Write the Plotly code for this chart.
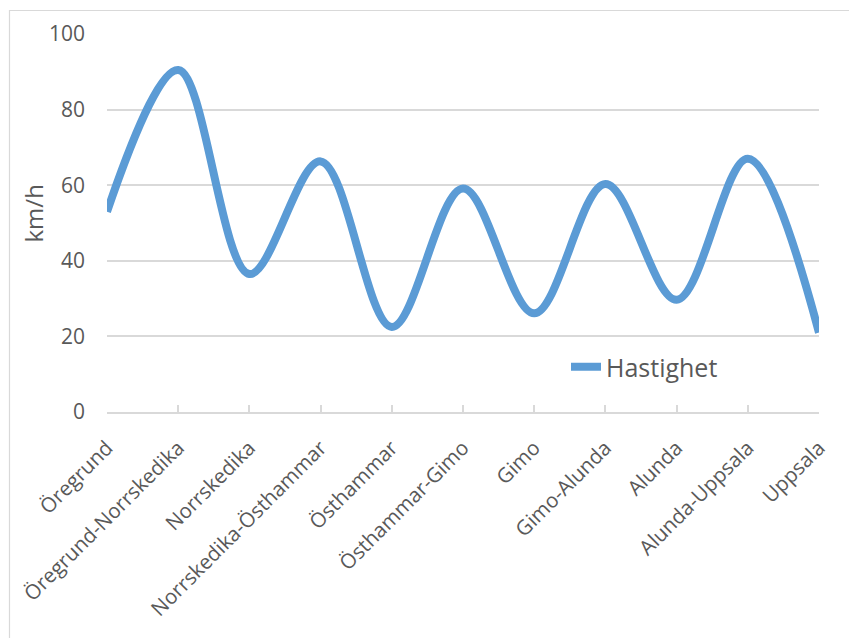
import plotly.graph_objects as go

categories = ["Öregrund", "Öregrund-Norrskedika", "Norrskedika", "Norrskedika-Östhammar",
              "Östhammar", "Östhammar-Gimo", "Gimo", "Gimo-Alunda", "Alunda",
              "Alunda-Uppsala", "Uppsala"]
hastighet = [53, 90.5, 36.5, 66.3, 22.5, 59.1, 26.1, 60.3, 29.7, 67, 21]
y_ticks = [0, 20, 40, 60, 80, 100]

TXT = "#595959"
GRID = "#d9d9d9"
FONT = "Open Sans"

W, H = 849, 638
L, R, T, B = 107, 30, 34, 226
pw = W - L - R
ph = H - T - B

def px_x(x):
    return (x - L) / pw

def px_y(y):
    return (H - B - y) / ph

fig = go.Figure()
fig.add_trace(go.Scatter(
    x=categories, y=hastighet, mode="lines", name="Hastighet",
    line=dict(color="#5B9BD5", width=8, shape="spline", smoothing=1.0),
))

fig.update_layout(
    width=W, height=H,
    margin=dict(l=L, r=R, t=T, b=B, autoexpand=False),
    paper_bgcolor="white", plot_bgcolor="white",
    font=dict(family=FONT, color=TXT, size=20),
    showlegend=True,
    legend=dict(x=px_x(566), y=px_y(367), xanchor="left", yanchor="middle",
                font=dict(size=25, color=TXT, family=FONT),
                bgcolor="rgba(0,0,0,0)"),
    xaxis=dict(
        type="category", range=[0, len(categories) - 1], automargin=False,
        showgrid=False, showline=True, linecolor=GRID, linewidth=1.5,
        ticks="inside", ticklen=7, tickcolor=GRID, tickwidth=1.5,
        tickangle=-45, tickfont=dict(size=20.5, color=TXT, family=FONT),
        ticklabelstandoff=14,
    ),
    yaxis=dict(
        range=[0, 100], tickvals=y_ticks, showgrid=True, gridcolor=GRID, gridwidth=1.5,
        zeroline=False, showline=False, ticks="", automargin=False,
        tickfont=dict(size=21, color=TXT, family=FONT),
        ticklabelstandoff=21,
    ),
    annotations=[dict(
        text="km/h", textangle=-90, x=px_x(32.5), y=px_y(214), xref="paper", yref="paper",
        showarrow=False, font=dict(size=24, color=TXT, family=FONT),
        xanchor="center", yanchor="middle",
    )],
    shapes=[dict(
        type="rect", xref="paper", yref="paper",
        x0=px_x(9.5), x1=px_x(870), y0=px_y(645), y1=px_y(10.5),
        line=dict(color=GRID, width=1.2), fillcolor="rgba(0,0,0,0)", layer="below",
    )],
)

fig.write_html("out.html")
